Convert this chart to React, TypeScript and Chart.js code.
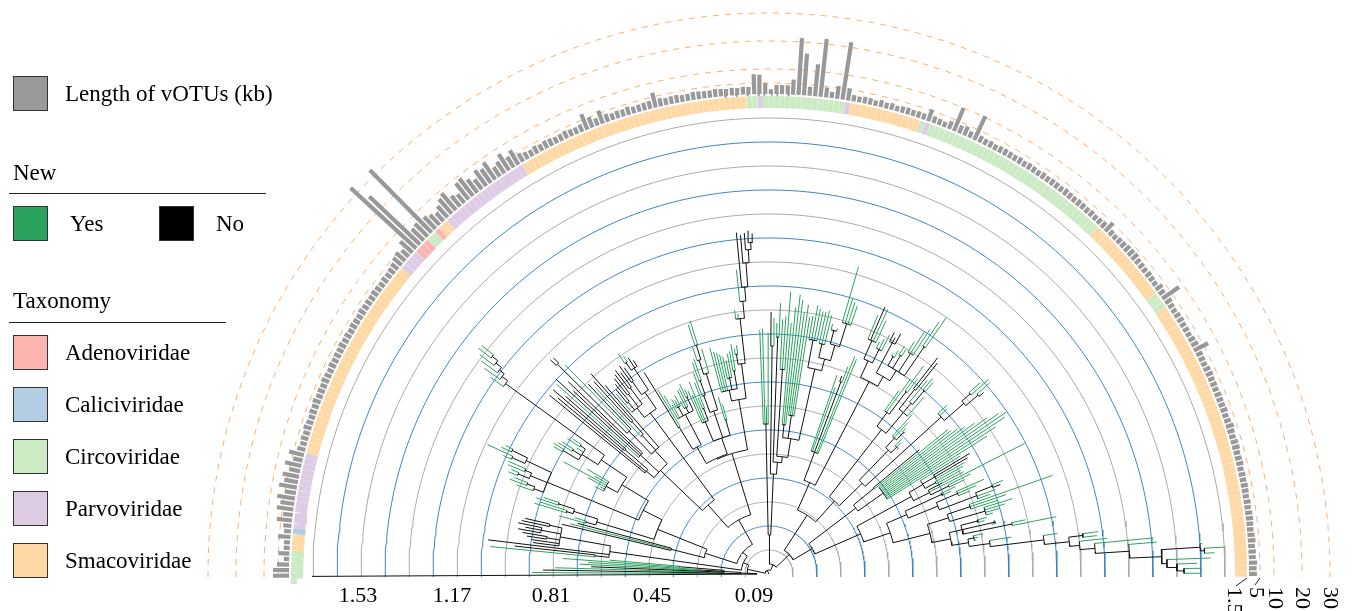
import React, { useEffect, useRef } from "react";
import { Chart, registerables } from "chart.js";

Chart.register(...registerables);

// ---------- data ----------
const DISTANCE_LABELS = ["1.53", "1.17", "0.81", "0.45", "0.09"];
const KB_LABELS = ["1.5", "5", "10", "20", "30"];
const GRAY_RING_DIST = [0.09, 0.27, 0.45, 0.63, 0.81, 0.99, 1.17, 1.35, 1.53, 1.71];
const BLUE_RING_DIST = [0.18, 0.36, 0.54, 0.72, 0.9, 1.08, 1.26, 1.44, 1.62];
const KB_RINGS = [5, 10, 20, 30];

const TAXA_COLORS: Record<string, string> = {
  Adenoviridae: "#fbb4ae",
  Caliciviridae: "#b3cde3",
  Circoviridae: "#ccebc5",
  Parvoviridae: "#decbe4",
  Smacoviridae: "#fed9a6",
};
const TAXA_NAMES = ["Adenoviridae", "Caliciviridae", "Circoviridae", "Parvoviridae", "Smacoviridae"];
const TAXA_RUN_NAMES = ["Circoviridae","Smacoviridae","Caliciviridae","Parvoviridae","Smacoviridae","Parvoviridae","Adenoviridae","Circoviridae","Adenoviridae","Smacoviridae","Parvoviridae","Smacoviridae","Circoviridae","Parvoviridae","Circoviridae","Parvoviridae","Smacoviridae","Circoviridae","Parvoviridae","Circoviridae","Smacoviridae","Circoviridae","Smacoviridae"];
const TAXA_RUN_COUNTS = [5,3,1,14,38,4,3,2,1,2,17,43,2,1,15,1,13,1,1,36,16,3,52];

const BAR_KB = [
  6.8,6.8,5.4,3,5,3.2,3.2,5.5,3.5,4,
  6.5,4.5,7,6,7.5,5,7.5,6,7,5,
  7,4.5,6.5,4,3.5,3.8,3.5,4,3.6,3.4,
  3.8,3.6,4,3.5,3.7,3.5,3.9,3.6,3.4,3.8,
  3.5,3.7,3.6,3.9,3.5,3.7,3.4,3.8,3.6,3.5,
  3.9,3.6,3.7,3.5,3.8,3.6,3.4,3.7,3.5,3.8,
  4.2,5,5.5,4.5,7,33,26,7,7.5,32.5,
  7,6,5,6.5,8,9,6,5,8.5,9,
  7,5.5,8,7,8.5,5,6,8,5.5,7,
  4.5,3.8,3.5,4,3.6,4,3.8,3.5,3.6,4,
  3.6,3.5,3.8,7,5,3.8,6,4,3.5,3.8,
  3.6,4,3.5,3.6,3.8,4,6.5,4,3.6,3.8,
  3.9,3.5,3.6,4,3.8,3.6,3.6,3.9,3.7,3.5,3.8,
  3.6,3.9,3.7,8.2,8,5,2.8,4.3,4.3,4.3,
  6.4,21.4,16,4.3,12.5,21.8,4.6,3.3,5.7,21.8,
  5.5,3.4,3.2,3.5,3.4,3,3.6,3.2,3.5,3,
  3.4,3.5,3.2,3.4,3.2,5.5,3.5,3.3,3,4,
  10,4,4.5,3.5,10.5,3.6,3.3,3.5,3.2,3.4,
  3.5,3.4,3.3,3.6,3.2,3.5,3.4,3.2,3.5,3.3,
  3.5,3.4,3.2,3.6,3.4,3.2,3.5,3.4,3.3,3.5,
  3.2,3.4,3.6,5.2,3.3,3,3.4,3.5,3.8,3.9,
  4,3.5,3.4,3.2,3.5,3.3,3,4,3.5,8.4,
  3.8,3.4,3.2,3.5,3.6,3.3,3.4,3.2,3.6,3.8,
  6.8,3.5,3.4,3.2,3.6,3.7,3.4,3.5,3.3,3.6,
  3.5,3.4,3.6,3.3,3.5,4,3.6,3.4,3.7,3.8,
  3.4,3.5,3.6,3.3,3.5,3.4,3.6,3.5,3.3,3.6,
  3.4,3.6,3.7,3.5,3.4,3.6,3.8,3.5,3.7,3.6,
  4,3.8,3.9,
];

// Tree: a node is [depth, ...children]; a tip is its depth, positive = new (green), negative = known (black).
const cBottom = [12, -457, [28, [60, 237, -226], [45, 214, -178, [70, 190, 181], [90, 207, 160]]]];
const cLow = [161, [175, 280, -256], -283, [212, -238, -240, [225, -245, -250], [232, -255, -248, -256], [225, -253, -250]]];
const cX = [101, -213, 205, -198];
const c3 = [180, [190, 218, 202], [205, [212, 245, 240], [222, 245, 238]]];
const c4 = [240, [250, 268, [258, 276, 272]], [258, [270, 280, 278], [265, 283, 284]], [268, [282, 291, 310], [285, 296, 293]]];
const cGreenA = [185, 195, 190, 205, 234, 200, 210];
const cGreenB = [222, [240, 250, 252], [232, 248, 245], 230, [228, 243, 238]];
const c6 = [316, [325, 341, [332, 351, [338, 358, [345, 363, [352, 368, 367]]]]]];
const cFan = [150, [160, -283, -275, [190, -284, -270]], [175, 285, -289, -268, -278], [168, [200, [298, -306, -305], 292, -262], [188, 255, [205, -260, -268]], -250]];
const cY = [200, [212, 236, [222, -240, -244], [228, -249, -252], [232, -255, -250]], [220, [236, -256, -252], [246, [255, 267, 262], -258, -253]]];
const cA = [146, [172, -237, 215], [180, 207, 195, [190, 200, 198, 202], [186, 194, 205, 206], [195, 210, 203]]];
const cB = [144, [165, 200, 195, 208, [178, 190, 205]], [172, [190, 215, [205, 225, 228]], [210, [225, 240, [240, 262, 265]], 235]], [160, 184, 176]];
const cTop = [177, [188, 234, 229, 227, 225, [200, 222, 218, 224], [206, 226, 233]], [212, [222, 228, 231], [257, 266, 262, [274, 306, [288, -343, [312, -340, [325, -342, [332, -344, -341]]]]]]]];
const cCentral = [39, [150, 244, 245, 167, 241], [100, [228, -262, 256], [112, [237, 251, 271], [118, [205, 255, 258, 283], [137, [150, 252, 268, 281], [160, 276, 264, 272, 260], [210, [238, 262, 273, 270, 268], [222, [236, 268, 270, 266], [238, [252, 258, 250, 255], [262, 320, 288, 285, 282]]]]]]]]];
const cMid = [130, 210, 198, [205, -211, 222], 234, 232];
const cU1 = [235, [255, 281, -291, 290, 279], [250, 257, 262, 268]];
const cU2 = [228, [262, -272, -268, -274], [240, [250, 253, 258], [255, 265, 263], [262, 274, 288, 293], [275, 304, 312]]];
const cV = [183, [200, 225, 240, [228, 259, 245]], [210, [235, -274, -270], [222, 250, [240, 255, 252]], 235]];
const cK = [172, [185, 214, 205, [195, 200, 197]], [180, 190, 186, 178]];
const cW = [233, 245, 243, [259, [270, 285, 293], [275, 292, -281]]];
const cLong = [109, [135, -195, 230], [140, 232, 238, 245, 255, 268, 280, 287, 283, 270, 258]];
const cN162 = [162, [178, 225, [192, -234, -230, 225], [190, 222, 218]], [180, [196, 220], 287, [200, 225, 217]]];
const cP = [150, [190, 206, 200], [182, [205, 235, 225, 218], [222, [240, 252, -248], 242, 235]]];
const cQ = [188, [212, 300, 250, 240], [225, 255, 246, 240, 232]];
const cFar = [302, [316, 332, 330], [312, 340, [327, 386, [361, 389, [393, [432, 434, [436, 457, 446]], [398, 442, [408, 428, [415, 433, 431]]]]]]]];
const cS = [185, [198, [215, 225, 222], [232, 230, 228], [248, 262, 293]], [202, [208, 218, 212, 210], [223, 245, [277, 291, cFar]]]];

const leftTree = [22, cBottom, [28, cLow, [34,
  [67, cX, [120, c3, [141, c4, [172, cGreenA, [203, cGreenB, c6]]]]],
  [62, [92, cFan, cY], [126, [127, cA, cB], cTop]],
]]];
const rightTree = [10, cCentral, [28,
  [70, [100, cMid, [151, [217, cU1, cU2]]], [98, cV, [130, cK, cW]]],
  [50, cLong, [100, cN162, [128, cP, [166, cQ, cS]]]],
]];
const TREE = [4, leftTree, rightTree];

// ---------- geometry ----------
const CX = 769, CY = 574, W = 1352, H = 611;
const PX_PER_DIST = 24 / 0.09;
const TIP_START = -0.3, TIP_END = 179.9;
const BAR_START = -0.2, BAR_STEP = 0.66;
const BAND_START = -0.5, BAND_IN = 466, BAND_OUT = 478;
const BAR_BASE = 480;
const kbRadius = (kb: number) => 477 + 2.8 * kb;
const GAP = { x: NaN, y: NaN };
const polar = (r: number, t: number) => {
  const a = (t * Math.PI) / 180;
  return { x: -r * Math.cos(a), y: r * Math.sin(a) };
};
const countTips = (n: any): number => (typeof n === "number" ? 1 : n.slice(1).reduce((s: number, c: any) => s + countTips(c), 0));

function buildTree() {
  const black: any[] = [], green: any[] = [];
  const step = (TIP_END - TIP_START) / (countTips(TREE) - 1);
  let tip = 0;
  const walk = (n: any, parentR: number): number => {
    if (typeof n === "number") {
      const t = TIP_START + step * tip++;
      (n > 0 ? green : black).push(polar(parentR, t), polar(Math.abs(n), t), GAP);
      return t;
    }
    const r = n[0];
    const ts = n.slice(1).map((c: any) => walk(c, r));
    const a = ts[0], b = ts[ts.length - 1], t = (a + b) / 2;
    black.push(polar(parentR, t), polar(r, t), GAP);
    for (let q = a; q < b; q += 1.5) black.push(polar(r, q));
    black.push(polar(r, b), GAP);
    return t;
  };
  walk(TREE, 0);
  return { black, green };
}

function ringPoints(radii: number[]) {
  const pts: any[] = [];
  radii.forEach((r) => {
    const t0 = (-Math.asin(3 / r) * 180) / Math.PI;
    for (let t = t0; t < 180 - t0; t += 1) pts.push(polar(r, t));
    pts.push(polar(r, 180 - t0), GAP);
  });
  return pts;
}

function bandDatasets() {
  const groups: Record<string, any[]> = {};
  let cell = 0;
  TAXA_RUN_NAMES.forEach((name, i) => {
    for (let k = 0; k < TAXA_RUN_COUNTS[i]; k++, cell++) {
      const a = BAND_START + cell * BAR_STEP, b = a + BAR_STEP;
      const r = (BAND_IN + BAND_OUT) / 2;
      (groups[name] = groups[name] || []).push(polar(r, a + 0.015), polar(r, b - 0.015), GAP);
    }
  });
  return TAXA_NAMES.map((name) => ({
    label: name, data: groups[name], borderColor: TAXA_COLORS[name], borderWidth: BAND_OUT - BAND_IN,
    showLine: true, pointRadius: 0, borderCapStyle: "butt" as const, spanGaps: false,
  }));
}

const line = (label: string, data: any[], color: string, width: number, extra: any = {}) => ({
  label, data, borderColor: color, backgroundColor: color, borderWidth: width, showLine: true, pointRadius: 0, spanGaps: false,
  borderCapStyle: "butt" as const, borderJoinStyle: "round" as const, tension: 0, ...extra,
});

const textPlugin = {
  id: "axisText",
  afterDraw(chart: any) {
    const { ctx } = chart;
    ctx.save();
    ctx.fillStyle = "#000";
    ctx.font = '22px "Liberation Serif"';
    ctx.textBaseline = "middle";
    ctx.textAlign = "center";
    const distX = [358, 452, 551, 652, 754];
    DISTANCE_LABELS.forEach((s, i) => ctx.fillText(s, distX[i], 596));
    const kbX = [1234, 1256, 1275, 1302, 1330];
    ctx.textAlign = "left";
    KB_LABELS.forEach((s, i) => {
      ctx.save();
      ctx.translate(kbX[i], 587);
      ctx.rotate(Math.PI / 2);
      ctx.fillText(s, 0, 0);
      ctx.restore();
    });
    ctx.strokeStyle = "#222";
    ctx.lineWidth = 1;
    ctx.beginPath();
    ctx.moveTo(1247, 578); ctx.lineTo(1236, 586);
    ctx.moveTo(1260, 578); ctx.lineTo(1255, 585);
    ctx.stroke();
    ctx.restore();
  },
};

const serif: React.CSSProperties = { position: "absolute", font: '23px "Liberation Serif"', color: "#000", lineHeight: "24px", whiteSpace: "nowrap" };
const Swatch = ({ x, y, c }: { x: number; y: number; c: string }) => (
  <div style={{ position: "absolute", left: x, top: y, width: 33, height: 33, background: c, border: "1px solid #333" }} />
);
const Label = ({ x, y, t }: { x: number; y: number; t: string }) => <div style={{ ...serif, left: x, top: y - 11 }}>{t}</div>;
const Rule = ({ x, y, w }: { x: number; y: number; w: number }) => (
  <div style={{ position: "absolute", left: x, top: y, width: w, height: 1, background: "#222" }} />
);

export default function App() {
  const ref = useRef<HTMLCanvasElement>(null);
  useEffect(() => {
    const { black, green } = buildTree();
    const bars: any[] = [];
    BAR_KB.forEach((kb, i) => {
      const t = BAR_START + i * BAR_STEP;
      bars.push(polar(BAR_BASE, t), polar(kbRadius(kb), t), GAP);
    });
    const chart = new Chart(ref.current as HTMLCanvasElement, {
      type: "scatter",
      data: {
        datasets: [
          line("Known", black, "#111", 1),
          line("New", green, "#2ca25f", 1),
          line("Length of vOTUs (kb)", bars, "#999999", 4.2),
          ...bandDatasets(),
          line("kb rings", ringPoints(KB_RINGS.map(kbRadius)), "#fdae6b", 1, { borderDash: [6, 6] }),
          line("Blue rings", ringPoints(BLUE_RING_DIST.map((d) => d * PX_PER_DIST)), "#3d85c6", 1),
          line("Gray rings", ringPoints(GRAY_RING_DIST.map((d) => d * PX_PER_DIST)), "#aaaaaa", 1),
        ] as any,
      },
      options: {
        animation: false,
        responsive: false,
        layout: { padding: 0 },
        plugins: { legend: { display: false }, tooltip: { enabled: false } },
        scales: {
          x: { type: "linear", display: false, min: -CX, max: W - CX },
          y: { type: "linear", display: false, min: CY - H, max: CY },
        },
      },
      plugins: [textPlugin],
    } as any);
    return () => chart.destroy();
  }, []);
  return (
    <div style={{ position: "absolute", left: 0, top: 0, width: W, height: H, overflow: "hidden", background: "#fff" }}>
      <canvas ref={ref} width={W} height={H} style={{ position: "absolute", left: 0, top: 0 }} />
      <Swatch x={13} y={76} c="#999999" />
      <Label x={65} y={93} t="Length of vOTUs (kb)" />
      <Label x={13} y={172} t="New" />
      <Rule x={9} y={193} w={257} />
      <Swatch x={13} y={206} c="#2ca25f" />
      <Label x={70} y={223} t="Yes" />
      <Swatch x={159} y={206} c="#000000" />
      <Label x={216} y={223} t="No" />
      <Label x={13} y={300} t="Taxonomy" />
      <Rule x={9} y={322} w={217} />
      {TAXA_NAMES.map((n, i) => (
        <React.Fragment key={n}>
          <Swatch x={13} y={335 + i * 52} c={TAXA_COLORS[n]} />
          <Label x={65} y={352 + i * 52} t={n} />
        </React.Fragment>
      ))}
    </div>
  );
}
